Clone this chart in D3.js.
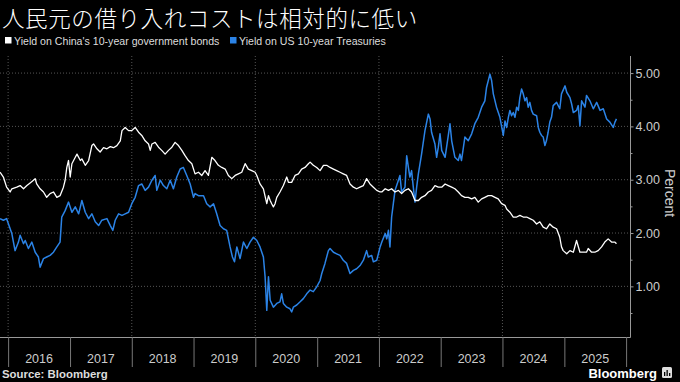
<!DOCTYPE html>
<html><head><meta charset="utf-8">
<script src="https://cdn.jsdelivr.net/npm/d3@7"></script>
<style>html,body{margin:0;padding:0;background:#000;}svg{display:block}</style>
</head><body>
<script>
const titleText = "人民元の借り入れコストは相対的に低い";
const seriesNames = ["Yield on China's 10-year government bonds", "Yield on US 10-year Treasuries"];
const sourceText = "Source: Bloomberg";
const yTicks = [1, 2, 3, 4, 5];
const yMinorTicks = [0.5, 1.5, 2.5, 3.5, 4.5];
const yearLabels = [2016, 2017, 2018, 2019, 2020, 2021, 2022, 2023, 2024, 2025];

const chinaDates = ["2015-11-14","2015-12-04","2015-12-23","2016-01-13","2016-01-23","2016-02-21","2016-03-12","2016-04-01","2016-04-21","2016-05-10","2016-05-30","2016-06-09","2016-06-18","2016-07-08","2016-07-28","2016-08-16","2016-09-05","2016-09-25","2016-10-15","2016-11-03","2016-11-23","2016-12-03","2016-12-13","2016-12-23","2017-01-02","2017-01-12","2017-02-01","2017-02-11","2017-03-03","2017-03-12","2017-04-01","2017-04-21","2017-05-10","2017-05-20","2017-06-09","2017-06-28","2017-07-18","2017-08-07","2017-08-27","2017-09-15","2017-10-05","2017-10-25","2017-11-04","2017-11-23","2017-12-13","2018-01-01","2018-01-21","2018-02-10","2018-03-01","2018-03-21","2018-04-10","2018-04-20","2018-04-30","2018-05-19","2018-06-08","2018-06-27","2018-07-17","2018-08-06","2018-08-26","2018-09-14","2018-10-04","2018-10-24","2018-11-12","2018-12-02","2018-12-22","2019-01-10","2019-01-30","2019-02-19","2019-03-10","2019-03-30","2019-04-19","2019-05-08","2019-05-28","2019-06-17","2019-07-07","2019-07-26","2019-08-15","2019-09-04","2019-09-23","2019-10-13","2019-11-02","2019-11-21","2019-12-11","2019-12-31","2020-01-10","2020-01-29","2020-02-18","2020-03-09","2020-03-19","2020-03-29","2020-04-07","2020-04-17","2020-04-27","2020-05-07","2020-05-26","2020-06-15","2020-07-05","2020-07-15","2020-08-03","2020-08-23","2020-09-12","2020-10-01","2020-10-21","2020-11-10","2020-11-20","2020-12-09","2020-12-29","2021-01-18","2021-02-07","2021-02-26","2021-03-18","2021-04-07","2021-04-26","2021-05-16","2021-06-04","2021-06-24","2021-07-14","2021-08-03","2021-08-22","2021-09-11","2021-10-01","2021-10-20","2021-11-09","2021-11-29","2021-12-19","2022-01-08","2022-01-18","2022-02-07","2022-02-26","2022-03-17","2022-04-06","2022-04-26","2022-05-15","2022-06-04","2022-06-24","2022-07-13","2022-08-02","2022-08-22","2022-09-10","2022-09-30","2022-10-20","2022-11-08","2022-11-28","2022-12-18","2023-01-07","2023-01-27","2023-02-15","2023-03-07","2023-03-26","2023-04-15","2023-05-04","2023-05-24","2023-06-13","2023-07-03","2023-07-22","2023-08-11","2023-08-31","2023-09-19","2023-10-09","2023-10-29","2023-11-18","2023-12-07","2023-12-27","2024-01-16","2024-01-26","2024-02-14","2024-03-05","2024-03-25","2024-04-13","2024-05-03","2024-05-23","2024-06-11","2024-07-01","2024-07-21","2024-08-09","2024-08-29","2024-09-17","2024-10-07","2024-10-27","2024-11-16","2024-12-05","2024-12-15","2024-12-25","2025-01-15","2025-02-03","2025-02-23","2025-03-14","2025-04-03","2025-04-22","2025-05-12","2025-05-22","2025-06-11","2025-06-30","2025-07-20","2025-08-09","2025-08-28","2025-09-17","2025-10-07","2025-10-27","2025-11-05"];
const chinaValues = [3.14,3.05,2.86,2.77,2.83,2.86,2.89,2.83,2.89,2.94,2.99,3.02,2.92,2.83,2.77,2.67,2.74,2.77,2.67,2.70,2.86,2.99,3.23,3.36,3.05,3.30,3.42,3.48,3.36,3.39,3.27,3.36,3.64,3.67,3.58,3.52,3.60,3.58,3.62,3.60,3.64,3.73,3.92,3.98,3.92,3.92,3.98,3.89,3.83,3.73,3.67,3.55,3.67,3.70,3.61,3.55,3.48,3.55,3.61,3.70,3.64,3.55,3.45,3.36,3.30,3.11,3.14,3.08,3.17,3.08,3.42,3.36,3.27,3.23,3.20,3.08,3.02,3.08,3.11,3.14,3.30,3.20,3.17,3.14,3.08,2.92,2.83,2.55,2.70,2.61,2.55,2.49,2.55,2.67,2.77,2.89,3.05,2.95,2.95,3.08,3.11,3.20,3.23,3.30,3.33,3.27,3.23,3.17,3.27,3.27,3.23,3.20,3.17,3.14,3.11,3.08,2.92,2.86,2.83,2.86,2.89,3.02,2.92,2.86,2.80,2.77,2.77,2.83,2.80,2.83,2.77,2.80,2.74,2.80,2.83,2.77,2.61,2.61,2.67,2.70,2.77,2.80,2.89,2.86,2.86,2.92,2.89,2.86,2.83,2.77,2.70,2.67,2.67,2.64,2.67,2.58,2.64,2.67,2.70,2.70,2.67,2.64,2.55,2.52,2.45,2.39,2.30,2.30,2.33,2.30,2.30,2.27,2.24,2.17,2.21,2.11,2.08,2.17,2.11,2.08,1.92,1.74,1.67,1.61,1.67,1.64,1.86,1.64,1.64,1.64,1.71,1.64,1.64,1.67,1.74,1.83,1.89,1.83,1.83,1.80];

const usDates = ["2015-11-14","2015-12-04","2015-12-23","2016-01-03","2016-01-23","2016-02-11","2016-03-02","2016-03-12","2016-04-01","2016-04-11","2016-04-30","2016-05-20","2016-06-09","2016-06-28","2016-07-08","2016-07-28","2016-08-16","2016-09-05","2016-09-25","2016-10-15","2016-11-03","2016-11-13","2016-12-03","2016-12-23","2017-01-12","2017-02-01","2017-02-21","2017-03-12","2017-04-01","2017-04-21","2017-05-10","2017-05-30","2017-06-19","2017-07-08","2017-08-07","2017-08-27","2017-09-11","2017-09-25","2017-10-15","2017-11-04","2017-11-23","2017-12-13","2018-01-01","2018-01-21","2018-02-10","2018-03-01","2018-03-21","2018-04-10","2018-04-30","2018-05-19","2018-05-29","2018-06-18","2018-07-07","2018-07-27","2018-08-16","2018-09-04","2018-09-24","2018-10-14","2018-11-02","2018-11-22","2018-12-12","2019-01-01","2019-01-10","2019-01-30","2019-03-01","2019-03-20","2019-04-09","2019-04-29","2019-05-18","2019-06-07","2019-06-27","2019-07-16","2019-08-05","2019-08-19","2019-08-31","2019-09-14","2019-10-03","2019-10-23","2019-11-12","2019-12-01","2019-12-21","2020-01-10","2020-01-29","2020-02-18","2020-02-28","2020-03-09","2020-03-19","2020-03-29","2020-04-17","2020-05-07","2020-05-26","2020-06-05","2020-06-15","2020-07-05","2020-07-24","2020-08-03","2020-08-13","2020-09-02","2020-09-22","2020-10-11","2020-10-31","2020-11-20","2020-12-09","2020-12-29","2021-01-18","2021-01-28","2021-02-16","2021-03-08","2021-03-18","2021-04-07","2021-04-26","2021-05-16","2021-06-04","2021-06-24","2021-07-14","2021-08-03","2021-08-22","2021-09-11","2021-10-01","2021-10-20","2021-10-30","2021-11-19","2021-11-29","2021-12-19","2022-01-08","2022-01-18","2022-02-07","2022-02-16","2022-02-26","2022-03-07","2022-03-17","2022-03-27","2022-04-06","2022-04-26","2022-05-05","2022-05-15","2022-06-04","2022-06-14","2022-06-24","2022-07-03","2022-07-13","2022-07-23","2022-08-02","2022-08-12","2022-08-22","2022-09-10","2022-09-30","2022-10-20","2022-10-30","2022-11-08","2022-11-28","2022-12-08","2022-12-18","2022-12-28","2023-01-07","2023-01-27","2023-02-15","2023-02-25","2023-03-07","2023-03-26","2023-04-15","2023-04-25","2023-05-04","2023-05-24","2023-06-13","2023-07-03","2023-07-22","2023-08-11","2023-08-31","2023-09-19","2023-09-29","2023-10-19","2023-10-29","2023-11-08","2023-11-27","2023-12-17","2024-01-06","2024-01-16","2024-01-26","2024-02-05","2024-02-14","2024-02-24","2024-03-05","2024-03-15","2024-03-25","2024-04-04","2024-04-13","2024-04-23","2024-05-03","2024-05-13","2024-05-23","2024-06-01","2024-06-11","2024-06-21","2024-07-01","2024-07-21","2024-07-31","2024-08-09","2024-08-19","2024-08-29","2024-09-08","2024-09-17","2024-09-27","2024-10-07","2024-10-17","2024-10-27","2024-11-16","2024-12-05","2024-12-15","2025-01-05","2025-01-15","2025-02-03","2025-02-13","2025-02-23","2025-03-14","2025-03-24","2025-04-03","2025-04-13","2025-05-03","2025-05-12","2025-06-01","2025-06-21","2025-07-11","2025-07-31","2025-08-19","2025-09-08","2025-09-27","2025-10-17","2025-10-27","2025-11-05"];
const usValues = [2.27,2.24,2.27,2.17,1.99,1.67,1.83,1.96,1.80,1.86,1.71,1.83,1.64,1.55,1.36,1.52,1.55,1.58,1.64,1.74,1.83,2.30,2.42,2.58,2.39,2.49,2.36,2.61,2.39,2.27,2.36,2.21,2.14,2.24,2.27,2.14,2.05,2.24,2.36,2.33,2.36,2.39,2.55,2.67,2.89,2.92,2.80,2.86,2.99,3.08,2.80,2.99,2.89,2.83,2.99,2.83,3.05,3.20,3.23,3.08,2.92,2.67,2.74,2.70,2.70,2.55,2.49,2.55,2.36,2.14,2.08,2.05,1.74,1.55,1.46,1.74,1.52,1.83,1.71,1.83,1.92,1.86,1.74,1.55,1.18,0.55,1.18,0.74,0.61,0.68,0.71,0.86,0.68,0.61,0.58,0.52,0.61,0.65,0.71,0.77,0.86,0.93,0.90,0.99,1.11,1.24,1.43,1.67,1.71,1.64,1.61,1.58,1.49,1.43,1.24,1.30,1.33,1.39,1.49,1.67,1.55,1.58,1.46,1.49,1.74,1.83,1.99,1.89,2.05,1.74,2.30,2.55,2.80,2.99,3.08,2.77,2.86,3.45,3.23,3.05,3.17,2.86,2.58,2.86,3.11,3.48,3.92,4.23,4.14,3.89,3.67,3.42,3.61,3.86,3.55,3.42,3.83,4.05,3.73,3.42,3.36,3.48,3.36,3.80,3.73,3.86,4.05,4.17,4.36,4.48,4.73,4.98,4.86,4.61,4.36,4.17,3.83,4.10,3.98,4.17,4.30,4.20,4.26,4.17,4.36,4.30,4.54,4.70,4.61,4.48,4.54,4.36,4.45,4.30,4.23,4.20,3.98,3.89,3.83,3.80,3.64,3.73,3.89,4.08,4.17,4.39,4.45,4.33,4.61,4.76,4.64,4.54,4.42,4.26,4.30,4.39,4.01,4.48,4.36,4.58,4.48,4.33,4.45,4.30,4.33,4.14,4.08,3.98,4.08,4.14];

(function () {
const W = 680, H = 382;
const pLeft = 0, pRight = 630, pTop = 56, pBottom = 337;
const parse = d3.utcParse("%Y-%m-%d");
const china = chinaDates.map((d, i) => ({date: parse(d), value: chinaValues[i]}));
const us = usDates.map((d, i) => ({date: parse(d), value: usValues[i]}));

const svg = d3.select("body").append("svg").attr("width", W).attr("height", H).style("background", "#000");

const x = d3.scaleUtc().domain([parse("2015-11-14"), parse("2026-01-24")]).range([pLeft, pRight]);
const y = d3.scaleLinear().domain([0.05, 5.32]).range([pBottom, pTop]);

// title
svg.append("text").attr("x", 2).attr("y", 26.5).attr("fill", "#fff")
  .style("font-family", "'Noto Sans CJK JP', sans-serif").style("font-size", "22.5px").style("font-weight", 300)
  .style("letter-spacing", "0.6px")
  .text(titleText);

// legend
const legendColors = ["#ffffff", "#2b83e6"];
const legendX = [5, 230];
seriesNames.forEach((n, i) => {
  svg.append("rect").attr("x", legendX[i]).attr("y", 37).attr("width", 6.5).attr("height", 6.5).attr("fill", legendColors[i]);
  svg.append("text").attr("x", legendX[i] + 9).attr("y", 44.5).attr("fill", "#ddd")
    .style("font-family", "'Liberation Sans', Arial, sans-serif").style("font-size", "10.6px").text(n);
});

// grid
const grid = svg.append("g");
grid.selectAll("line.h").data(yTicks).join("line")
  .attr("x1", pLeft).attr("x2", pRight - 2).attr("y1", d => y(d)).attr("y2", d => y(d))
  .attr("stroke", "#555").attr("stroke-width", 1).attr("stroke-dasharray", "1,2");
const evenYears = d3.range(2016, 2026, 2).map(yr => new Date(Date.UTC(yr, 0, 1)));
grid.selectAll("line.v").data(evenYears).join("line")
  .attr("x1", d => x(d)).attr("x2", d => x(d)).attr("y1", pTop).attr("y2", pBottom)
  .attr("stroke", "#555").attr("stroke-width", 1).attr("stroke-dasharray", "1,2");

// lines
const line = d3.line().x(d => x(d.date)).y(d => y(d.value));
svg.append("path").datum(us).attr("d", line).attr("fill", "none").attr("stroke", "#2b83e6").attr("stroke-width", 1.5).attr("stroke-linejoin", "round");
svg.append("path").datum(china).attr("d", line).attr("fill", "none").attr("stroke", "#ffffff").attr("stroke-width", 1.3).attr("stroke-linejoin", "round");

// frame lines
svg.append("line").attr("x1", pLeft).attr("x2", pRight + 0.5).attr("y1", pBottom + 0.5).attr("y2", pBottom + 0.5).attr("stroke", "#999");
svg.append("line").attr("x1", pRight + 0.5).attr("x2", pRight + 0.5).attr("y1", pTop).attr("y2", pBottom + 0.5).attr("stroke", "#999");

// y axis
const yAxis = svg.append("g").attr("transform", `translate(${pRight + 0.5},0)`)
  .call(d3.axisRight(y).tickValues(yTicks).tickSize(3).tickPadding(2).tickFormat(d3.format(".2f")));
yAxis.select(".domain").remove();
yAxis.selectAll("line").attr("stroke", "#999");
yAxis.selectAll("text").attr("fill", "#ccc").style("font-family", "'Liberation Sans', Arial, sans-serif").style("font-size", "12.5px");
const yMinor = svg.append("g").attr("transform", `translate(${pRight + 0.5},0)`)
  .call(d3.axisRight(y).tickValues(yMinorTicks).tickSize(2).tickFormat(""));
yMinor.select(".domain").remove();
yMinor.selectAll("line").attr("stroke", "#999");

svg.append("text").attr("transform", `translate(665,193) rotate(90)`).attr("text-anchor", "middle")
  .attr("fill", "#ccc").style("font-family", "'Liberation Sans', Arial, sans-serif").style("font-size", "14px").text("Percent");

// x axis
const yearStarts = d3.range(2016, 2027).map(yr => new Date(Date.UTC(yr, 0, 1)));
const xAxis = svg.append("g").attr("transform", `translate(0,${pBottom})`)
  .call(d3.axisBottom(x).tickValues(yearStarts).tickSize(30).tickFormat(""));
xAxis.select(".domain").remove();
xAxis.selectAll("line").attr("stroke", "#777");
svg.append("g").selectAll("text").data(yearLabels).join("text")
  .attr("x", d => (x(new Date(Date.UTC(d, 0, 1))) + x(new Date(Date.UTC(d + 1, 0, 1)))) / 2)
  .attr("y", 363).attr("text-anchor", "middle").attr("fill", "#ccc")
  .style("font-family", "'Liberation Sans', Arial, sans-serif").style("font-size", "12.5px")
  .text(d => d);

// source
svg.append("text").attr("x", 2).attr("y", 378).attr("fill", "#ddd")
  .style("font-family", "'Liberation Sans', Arial, sans-serif").style("font-size", "11.4px").style("font-weight", "bold")
  .text(sourceText);

// logo
svg.append("text").attr("x", 657).attr("y", 378).attr("text-anchor", "end").attr("fill", "#fff")
  .style("font-family", "'Liberation Sans', Arial, sans-serif").style("font-size", "13px").style("font-weight", 600)
  .text("Bloomberg");
svg.append("rect").attr("x", 662).attr("y", 367).attr("width", 10).attr("height", 11).attr("rx", 1.5).attr("fill", "#ddd");
[[664, 372, 4], [666.5, 370, 6], [669, 373, 3]].forEach(b => {
  svg.append("rect").attr("x", b[0]).attr("y", b[1]).attr("width", 1.3).attr("height", b[2]).attr("fill", "#000");
});
})();
</script>
</body></html>
